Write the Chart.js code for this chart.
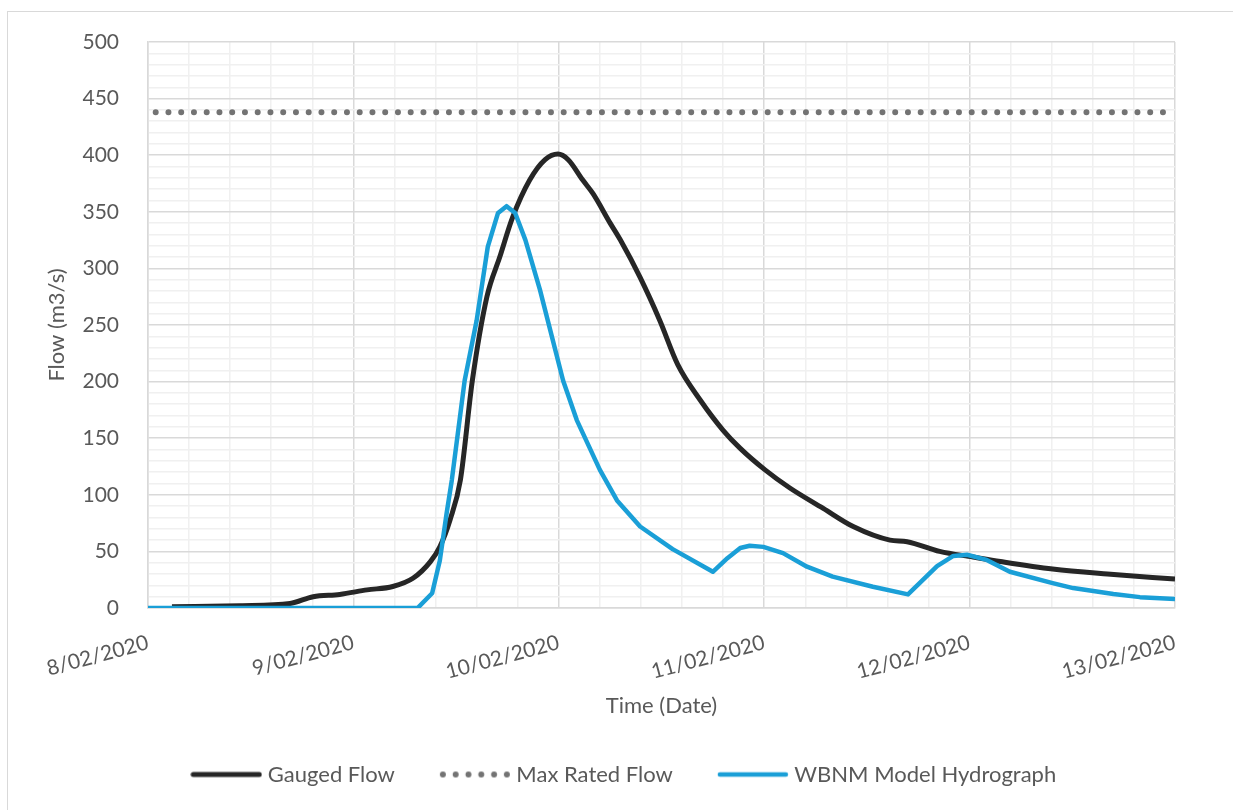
<!DOCTYPE html>
<html>
<head>
<meta charset="utf-8">
<title>Flow hydrograph</title>
<script src="https://cdn.jsdelivr.net/npm/chart.js@4.4.1/dist/chart.umd.min.js"></script>
<style>
    html, body { margin: 0; padding: 0; background: #fff; }
    body { position: relative; width: 1233px; height: 810px; overflow: hidden; }
    #frame { position: absolute; left: 7px; top: 11px; width: 1240px; height: 820px; border: 1px solid #d9d9d9; }
    #wrap { position: absolute; left: 0; top: 0; }
</style>
</head>
<body>
<div id="frame"></div>
<div id="wrap"><canvas id="flowChart" width="1233" height="810"></canvas></div>
<script>
// hours since 8/02/2020 00:00
const dayLabels = ['8/02/2020', '9/02/2020', '10/02/2020', '11/02/2020', '12/02/2020', '13/02/2020'];

const gaugedHours = [2.8, 10.8, 16.6, 19.3, 22.4, 25.6, 28.6, 31.0, 33.0, 34.1, 35.3, 36.5, 37.9, 39.6, 41.1, 42.6,
    44.6, 46.4, 47.9, 49.1, 50.8, 52.0, 54.0, 55.2, 57.5, 59.8, 61.9, 64.5, 67.2, 69.2, 72.1, 75.0, 78.9, 82.4,
    86.7, 88.7, 92.5, 96.4, 99.6, 105.7, 112.1, 120];
const gaugedFlow = [1, 2, 4, 10, 12, 16, 19, 26.5, 41, 54, 78, 113, 201, 275, 310, 345,
    378, 396, 401, 396, 378, 366, 340, 325, 292, 254, 215, 184, 157, 141, 122, 106, 88, 72,
    60, 58.6, 50, 45, 41, 34.4, 30, 25.6];

const modelHours = [0, 31.5, 33.2, 34.1, 34.9, 35.5, 37.0, 38.4, 39.7, 40.9, 41.9, 42.9, 44.1, 45.8, 48.5, 50.1,
    52.8, 54.8, 57.5, 61.3, 66.0, 67.7, 69.2, 70.3, 71.9, 74.2, 77.0, 80.0, 84.7, 88.8, 92.2, 94.1, 95.7, 98.0,
    100.7, 105.7, 108.1, 112.8, 115.9, 120];
const modelFlow = [0, 0, 13, 42, 84, 113, 201, 254, 319, 349, 355, 349, 325, 281, 201, 166,
    122, 95, 72, 52, 32, 44, 53, 55, 54, 48.5, 36.5, 27.7, 18.8, 12, 37, 46, 47, 42.5,
    32, 22, 17.6, 12.4, 9.6, 8];

const maxRatedFlow = 438;
const maxRatedHours = [0.9, 119.4];

const TEXT = '#595959';
const GRID_MAJOR = '#d9d9d9';
const GRID_MINOR = '#f0f0f0';
const GAUGED = '#262626';
const MODEL = '#1a9fd7';
const RATED = '#737373';

Chart.defaults.font.family = 'Lato';
Chart.defaults.font.size = 21;
Chart.defaults.color = TEXT;

const toPoints = (xs, ys) => xs.map((x, i) => ({ x: x, y: ys[i] }));

// small line swatches for the legend
function swatch(kind) {
    const c = document.createElement('canvas');
    c.width = 72; c.height = 10;
    const g = c.getContext('2d');
    g.lineCap = 'round';
    if (kind === 'dots') {
        g.fillStyle = RATED;
        for (let i = 0; i < 6; i++) {
            g.beginPath();
            g.arc(4 + i * 12.8, 5, 3, 0, Math.PI * 2);
            g.fill();
        }
    } else {
        g.strokeStyle = kind === 'gauged' ? GAUGED : MODEL;
        g.lineWidth = kind === 'gauged' ? 5 : 4.5;
        g.beginPath();
        g.moveTo(3, 5);
        g.lineTo(69, 5);
        g.stroke();
    }
    return c;
}

const legendItems = [
    { text: 'Gauged Flow', pointStyle: swatch('gauged'), datasetIndex: 0 },
    { text: 'Max Rated Flow', pointStyle: swatch('dots'), datasetIndex: 1 },
    { text: 'WBNM Model Hydrograph', pointStyle: swatch('model'), datasetIndex: 2 }
];

new Chart(document.getElementById('flowChart'), {
    type: 'line',
    data: {
        datasets: [
            {
                label: 'Gauged Flow',
                data: toPoints(gaugedHours, gaugedFlow),
                borderColor: GAUGED,
                borderWidth: 5,
                pointRadius: 0,
                cubicInterpolationMode: 'monotone',
                order: 2
            },
            {
                label: 'Max Rated Flow',
                data: maxRatedHours.map(h => ({ x: h, y: maxRatedFlow })),
                borderColor: RATED,
                borderWidth: 6,
                borderDash: [0, 12.75],
                borderCapStyle: 'round',
                pointRadius: 0,
                order: 1
            },
            {
                label: 'WBNM Model Hydrograph',
                data: toPoints(modelHours, modelFlow),
                borderColor: MODEL,
                borderWidth: 4.5,
                pointRadius: 0,
                tension: 0,
                borderJoinStyle: 'round',
                order: 0
            }
        ]
    },
    options: {
        responsive: false,
        animation: false,
        layout: { padding: { left: 77, right: 58, top: 42, bottom: 14.5 } },
        plugins: {
            tooltip: { enabled: false },
            legend: {
                position: 'bottom',
                labels: {
                    usePointStyle: true,
                    pointStyleWidth: 61,
                    padding: 49.5,
                    color: TEXT,
                    font: { size: 22 },
                    generateLabels: () => legendItems.map(it => Object.assign({
                        hidden: false, lineWidth: 0, fontColor: TEXT
                    }, it))
                }
            }
        },
        scales: {
            x: {
                type: 'linear',
                min: 0,
                max: 120,
                afterFit: s => { s.height = 106; },
                grid: {
                    drawTicks: false,
                    lineWidth: 1.5,
                    color: c => (c.tick && c.tick.value % 24 === 0) ? GRID_MAJOR : GRID_MINOR
                },
                border: { color: GRID_MAJOR, width: 1.5 },
                ticks: {
                    stepSize: 4.8,
                    autoSkip: false,
                    minRotation: 15,
                    maxRotation: 15,
                    padding: 22,
                    color: TEXT,
                    callback: v => (v % 24 === 0 ? dayLabels[v / 24] : '')
                },
                title: {
                    display: true,
                    text: 'Time (Date)',
                    color: TEXT,
                    font: { size: 22 },
                    padding: { top: 0, bottom: -5.5 }
                }
            },
            y: {
                min: 0,
                max: 500,
                afterFit: s => { s.width = 71; },
                grid: {
                    drawTicks: false,
                    lineWidth: 1.5,
                    color: c => (c.tick && c.tick.value % 50 === 0) ? GRID_MAJOR : GRID_MINOR
                },
                border: { color: GRID_MAJOR, width: 1.5 },
                ticks: {
                    stepSize: 10,
                    autoSkip: false,
                    padding: 29,
                    color: TEXT,
                    callback: v => (v % 50 === 0 ? v : '')
                },
                title: {
                    display: true,
                    text: 'Flow (m3/s)',
                    color: TEXT,
                    font: { size: 22 },
                    padding: { top: -33.2, bottom: 0 }
                }
            }
        }
    }
});
</script>
</body>
</html>
